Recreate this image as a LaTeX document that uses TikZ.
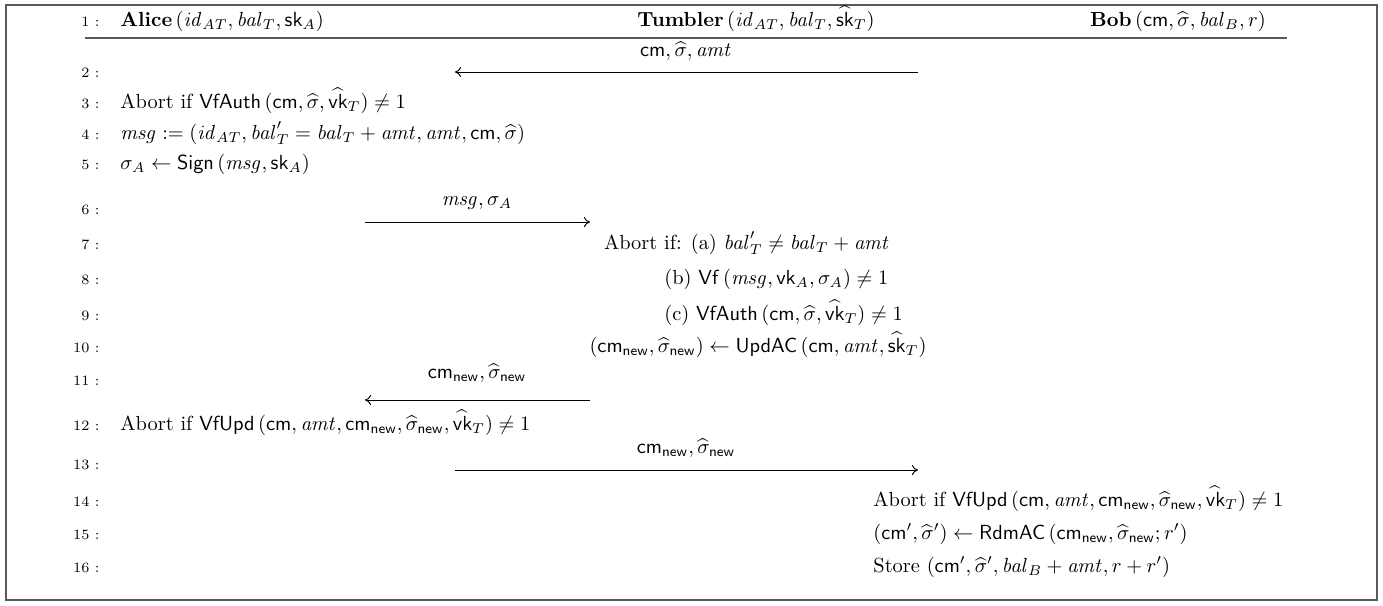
\documentclass[tikz,border=0pt]{standalone}
\usepackage{amsmath,amssymb}
\usetikzlibrary{arrows.meta}
\newcommand{\sfm}[1]{\mathsf{#1}}
\newcommand{\fn}[1]{\mathsf{#1}\,}
\newcommand{\itm}[1]{\mathit{#1}}
\newcommand{\shat}{\widehat{\sigma}}
\newcommand{\nw}{_{\mathsf{new}}}
\begin{document}
\begin{tikzpicture}[x=0.49pt,y=-0.49pt,
  num/.style={anchor=base east,inner sep=0pt,font=\scriptsize},
  txt/.style={anchor=base west,inner sep=0pt},
  rtxt/.style={anchor=base east,inner sep=0pt},
  ctxt/.style={anchor=base,inner sep=0pt},
  msgarrow/.style={-{To[length=3pt,width=5pt]},line width=0.45pt},
  frame/.style={draw=black!65,line width=0.9pt},
  rule/.style={draw=black!65,line width=0.7pt}]
\useasboundingbox (0,0) rectangle (1383,605);
\draw[frame] (6,5) rectangle (1377,600);
% line numbers
\foreach \n/\y in {1/26,2/77,3/108,4/139,5/169,6/214,7/249,8/284,9/320,10/352,11/385,12/430,13/469,14/506,15/539,16/572}
  \node[num] (n\n) at (100,\y) {\n\ :};
% header
\node[txt] (alice) at (120,26) {\textbf{Alice}$\,(\itm{id}_{AT}, \itm{bal}_T, \sfm{sk}_A)$};
\node[ctxt] (tumbler) at (756,26) {\textbf{Tumbler}$\,(\itm{id}_{AT}, \itm{bal}_T, \widehat{\sfm{sk}}_T)$};
\node[ctxt] (bob) at (1178,26) {\textbf{Bob}$\,(\sfm{cm}, \shat, \itm{bal}_B, r)$};
\coordinate (hl) at (85,38);
\coordinate (hr) at (1287,38);
\draw[rule] (hl) -- (hr);
% row 2
\node[ctxt] (l2) at (686,56) {$\sfm{cm}, \shat, \itm{amt}$};
\coordinate (a2s) at (918,72);
\coordinate (a2e) at (455,72);
\draw[msgarrow] (a2s) -- (a2e);
% rows 3-5
\node[txt] (r3) at (120,108) {Abort if $\fn{VfAuth}(\sfm{cm}, \shat, \widehat{\sfm{vk}}_T) \neq 1$};
\node[txt] (r4) at (120,139) {$\itm{msg} \mathrel{:=} (\itm{id}_{AT}, \itm{bal}'_T = \itm{bal}_T + \itm{amt}, \itm{amt}, \sfm{cm}, \shat)$};
\node[txt] (r5) at (120,169) {$\sigma_A \gets \fn{Sign}(\itm{msg}, \sfm{sk}_A)$};
% row 6
\node[ctxt] (l6) at (477,205) {$\itm{msg}, \sigma_A$};
\coordinate (a6s) at (365,222);
\coordinate (a6e) at (590,222);
\draw[msgarrow] (a6s) -- (a6e);
% rows 7-10
\node[rtxt] (r7) at (890,249) {Abort if: (a) $\itm{bal}'_T \neq \itm{bal}_T + \itm{amt}$};
\node[txt] (r8) at (664,284) {(b) $\fn{Vf}(\itm{msg}, \sfm{vk}_A, \sigma_A) \neq 1$};
\node[txt] (r9) at (664,320) {(c) $\fn{VfAuth}(\sfm{cm}, \shat, \widehat{\sfm{vk}}_T) \neq 1$};
\node[ctxt] (r10) at (758,352) {$(\sfm{cm}\nw, \shat\nw) \gets \fn{UpdAC}(\sfm{cm}, \itm{amt}, \widehat{\sfm{sk}}_T)$};
% row 11
\node[ctxt] (l11) at (477,378) {$\sfm{cm}\nw, \shat\nw$};
\coordinate (a11s) at (590,400);
\coordinate (a11e) at (365,400);
\draw[msgarrow] (a11s) -- (a11e);
% row 12
\node[txt] (r12) at (120,430) {Abort if $\fn{VfUpd}(\sfm{cm}, \itm{amt}, \sfm{cm}\nw, \shat\nw, \widehat{\sfm{vk}}_T) \neq 1$};
% row 13
\node[ctxt] (l13) at (686,453) {$\sfm{cm}\nw, \shat\nw$};
\coordinate (a13s) at (455,470);
\coordinate (a13e) at (918,470);
\draw[msgarrow] (a13s) -- (a13e);
% rows 14-16
\node[txt] (r14) at (873,506) {Abort if $\fn{VfUpd}(\sfm{cm}, \itm{amt}, \sfm{cm}\nw, \shat\nw, \widehat{\sfm{vk}}_T) \neq 1$};
\node[txt] (r15) at (873,539) {$(\sfm{cm}', \shat') \gets \fn{RdmAC}(\sfm{cm}\nw, \shat\nw; r')$};
\node[txt] (r16) at (873,572) {Store $(\sfm{cm}', \shat', \itm{bal}_B + \itm{amt}, r + r')$};
\end{tikzpicture}
\end{document}
